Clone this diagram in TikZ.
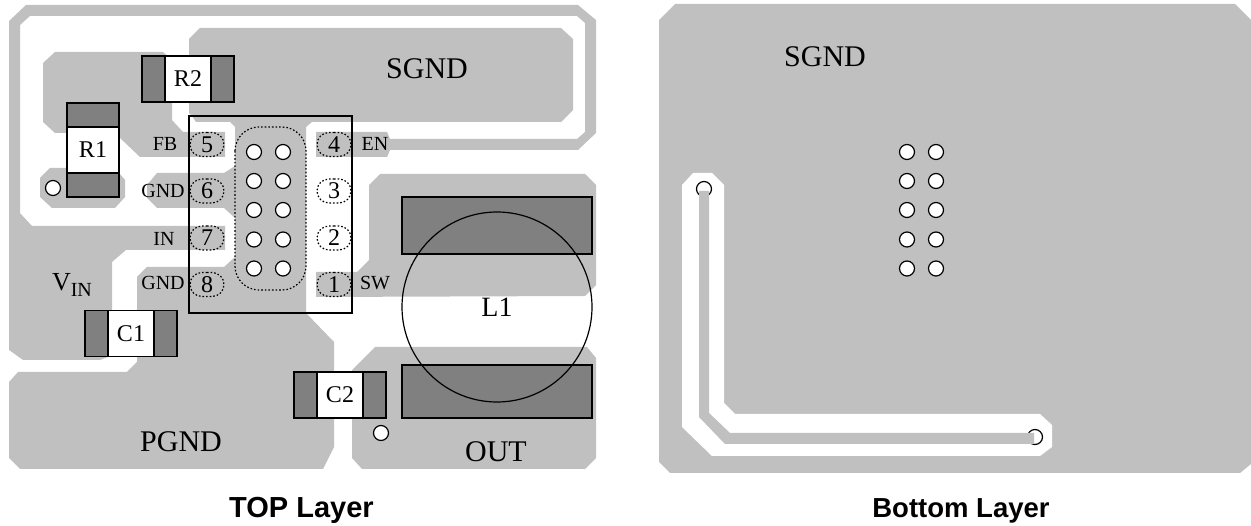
\documentclass[tikz,border=0pt]{standalone}
\usepackage{fontspec}
\setmainfont{Liberation Serif}
\newfontfamily\capfont{Liberation Sans}
\usetikzlibrary{calc, positioning, shapes.misc}
\definecolor{copper}{RGB}{192, 192, 192}
\definecolor{solder}{RGB}{128, 128, 128}

\begin{document}
\begin{tikzpicture}[x=1pt, y=-1pt, line width=1.2pt]
    \tikzstyle{plane} = [fill=copper, draw=none];
    \tikzstyle{body} = [draw, fill=white, inner sep=0pt, minimum width=46pt, minimum height=46pt, outer sep=0pt, font=\fontsize{24}{26}\selectfont];
    \tikzstyle{hend} = [draw, fill=solder, inner sep=0pt, minimum width=23pt, minimum height=46pt, outer sep=0pt];
    \tikzstyle{vend} = [draw, fill=solder, inner sep=0pt, minimum width=52pt, minimum height=24pt, outer sep=0pt];
    \tikzstyle{via} = [draw, circle, fill=white, inner sep=0pt, minimum size=15pt];
    \tikzstyle{dots} = [dash pattern=on 1.6pt off 2pt];
    \tikzstyle{pin} = [draw, dots, rounded rectangle, inner sep=0pt, minimum width=34pt, minimum height=24pt, font=\fontsize{24}{26}\selectfont];
    \tikzstyle{pinlabel} = [inner sep=0pt, font=\fontsize{20}{22}\selectfont];
    \tikzstyle{netlabel} = [inner sep=0pt, font=\fontsize{30}{32}\selectfont];
    \tikzstyle{caption} = [inner sep=0pt, anchor=base];

    \useasboundingbox (0, 0) rectangle (1251, 526);

    % top layer copper
    \fill [plane] (9, 21) -- (26, 5) -- (578, 5) -- (596, 20) -- (596, 133) -- (578, 150)
        -- (390, 150) -- (387, 157) -- (316, 157) -- (316, 132) -- (387, 132) -- (390, 139)
        -- (577, 139) -- (585, 132) -- (585, 23) -- (577, 16) -- (30, 16) -- (20, 25)
        -- (20, 213) -- (32, 226) -- (225, 226) -- (225, 250) -- (126, 250) -- (112, 262)
        -- (112, 310) -- (108, 357) -- (100, 360) -- (23, 360) -- (9, 350) -- cycle;
    \fill [plane] (200, 28) -- (561, 28) -- (573, 39) -- (573, 110) -- (561, 122) -- (312, 122)
        -- (306, 127) -- (306, 313) -- (334, 342) -- (334, 447) -- (323, 469) -- (20, 469)
        -- (9, 458) -- (9, 382) -- (18, 372) -- (127, 372) -- (137, 362) -- (137, 277)
        -- (147, 267) -- (224, 267) -- (235, 257) -- (235, 218) -- (224, 208) -- (157, 208)
        -- (147, 198) -- (147, 185) -- (157, 173) -- (224, 173) -- (235, 166) -- (235, 127)
        -- (230, 122) -- (196, 122) -- (192, 116) -- (189, 113) -- (189, 39) -- cycle;
    \fill [plane] (55, 52) -- (163, 52) -- (172, 60) -- (172, 120) -- (183, 132) -- (225, 132)
        -- (225, 157) -- (140, 157) -- (119, 137) -- (100, 137) -- (67, 133) -- (55, 133)
        -- (43, 122) -- (43, 63) -- cycle;
    \fill [plane] (50, 168) -- (67, 168) -- (67, 173) -- (119, 173) -- (125, 180) -- (125, 197)
        -- (115, 208) -- (52, 208) -- (40, 197) -- (40, 178) -- cycle;
    \fill [plane] (380, 174) -- (585, 174) -- (596, 185) -- (596, 285) -- (585, 296) -- (316, 297)
        -- (316, 272) -- (357, 272) -- (369, 260) -- (369, 185) -- cycle;
    \fill [plane] (375, 347) -- (587, 347) -- (596, 358) -- (596, 458) -- (585, 469) -- (362, 469)
        -- (352, 458) -- (352, 370) -- cycle;

    % parts
    \node [body] (R2) at (188, 79) {R2};
    \node [hend, left=0pt of R2] (R2l) { };
    \node [hend, right=0pt of R2] (R2r) { };

    \node [body, minimum width=52pt] (R1) at (93, 150) {R1};
    \node [vend, above=0pt of R1] (R1t) { };
    \node [vend, below=0pt of R1] (R1b) { };

    \node [body] (C1) at (131, 333.5) {C1};
    \node [hend, left=0pt of C1] (C1l) { };
    \node [hend, right=0pt of C1] (C1r) { };

    \node [body] (C2) at (340, 395) {C2};
    \node [hend, left=0pt of C2] (C2l) { };
    \node [hend, right=0pt of C2] (C2r) { };

    \node [draw, fill=solder, minimum width=190pt, minimum height=57pt, inner sep=0pt] (Ltop) at (497, 225.5) { };
    \node [draw, fill=solder, minimum width=190pt, minimum height=53pt, inner sep=0pt] (Lbot) at (497, 391.5) { };
    \node [draw, circle, minimum size=190pt, inner sep=0pt, font=\fontsize{28}{30}\selectfont] (L1) at (497, 307) {L1};

    % package
    \draw (189, 116) rectangle (352, 313);
    \draw [dots, rounded corners=24pt] (235, 127) rectangle (306, 290);

    \foreach \n/\py in {5/144.5, 6/191, 7/238, 8/284.5}{
        \node [pin] (P\n) at (207, \py) {\n};
    }
    \foreach \n/\py in {4/144.5, 3/191, 2/238, 1/284.5}{
        \node [pin] (P\n) at (334, \py) {\n};
    }

    \foreach \name/\px/\py/\txt in {fb/165/144/FB, gnda/163/191/GND, in/164/239/IN, gndb/163/283/GND, en/375/144/EN, sw/375/283/SW}{
        \node [pinlabel] (L\name) at (\px, \py) {\txt};
    }

    % vias
    \foreach \r/\py in {1/152, 2/181, 3/210, 4/239.5, 5/268.5}{
        \node [via] (Ta\r) at (254, \py) { };
        \node [via] (Tb\r) at (283, \py) { };
    }
    \node [via] (VR1) at (53, 188) { };
    \node [via] (VOUT) at (381, 433) { };

    \node [netlabel] (Ntop) at (427, 69) {SGND};
    \node [netlabel] (Npgnd) at (181, 442) {PGND};
    \node [netlabel] (Nout) at (496, 452) {OUT};
    \node [inner sep=0pt, font=\fontsize{26}{28}\selectfont] (Nvin) at (72, 285) {V\raisebox{-.25em}{\fontsize{20}{22}\selectfont IN}};

    % bottom layer
    \fill [plane] (675, 4) -- (1235, 4) -- (1251, 20) -- (1251, 464) -- (1240, 473) -- (670, 473)
        -- (659, 462) -- (659, 20) -- cycle;
    \fill [white] (693, 173) -- (712, 173) -- (724, 185) -- (724, 403) -- (735, 414) -- (1040, 414)
        -- (1052, 425) -- (1052, 447) -- (1040, 456) -- (712, 456) -- (682, 427) -- (682, 185) -- cycle;

    \foreach \r/\py in {1/152, 2/181, 3/210, 4/239.5, 5/268.5}{
        \node [via] (Ba\r) at (907, \py) { };
        \node [via] (Bb\r) at (936, \py) { };
    }
    \node [via] (Va) at (704, 189) { };
    \node [via] (Vb) at (1035, 437) { };
    \fill [plane] (699, 191) -- (709, 191) -- (709, 413) -- (730, 433) -- (1034, 433) -- (1034, 444)
        -- (725, 444) -- (699, 417) -- cycle;

    \node [netlabel] (Nbot) at (825, 57) {SGND};

    \node [caption, font=\capfont\bfseries\fontsize{29}{31}\selectfont] (Ctop) at (301.5, 518) {TOP Layer};
    \node [caption, font=\capfont\bfseries\fontsize{27.5}{30}\selectfont] (Cbot) at (961, 518) {Bottom Layer};
\end{tikzpicture}
\end{document}
